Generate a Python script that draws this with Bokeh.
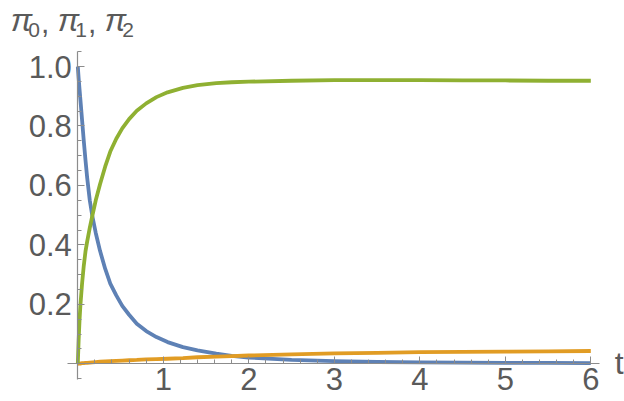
from bokeh.plotting import figure
from bokeh.models import FixedTicker, Label, NumeralTickFormatter
from bokeh.embed import file_html
from bokeh.resources import INLINE

# ---- data ----
t = [0, 0.01, 0.02, 0.03, 0.05, 0.07, 0.09, 0.11, 0.14, 0.17, 0.21, 0.26, 0.32,
     0.38, 0.45, 0.52, 0.6, 0.69, 0.8, 0.92, 1.05, 1.23, 1.4, 1.62, 1.8, 2.0,
     2.5, 3.0, 3.5, 4.0, 4.5, 5.0, 5.5, 6.0]
pi0 = [1.0, 0.96, 0.925, 0.89, 0.82, 0.75, 0.685, 0.625, 0.55, 0.497, 0.44,
       0.38, 0.32, 0.27, 0.23, 0.195, 0.165, 0.135, 0.11, 0.09, 0.073, 0.056,
       0.045, 0.034, 0.027, 0.021, 0.013, 0.009, 0.006, 0.005, 0.004, 0.003,
       0.003, 0.002]
pi1 = [0.0, 0.0005, 0.001, 0.001, 0.002, 0.002, 0.003, 0.003, 0.004, 0.005,
       0.006, 0.007, 0.008, 0.009, 0.010, 0.011, 0.012, 0.013, 0.015, 0.016,
       0.017, 0.019, 0.022, 0.024, 0.026, 0.028, 0.032, 0.035, 0.037, 0.039,
       0.040, 0.041, 0.042, 0.043]
pi2 = [0.0, 0.08, 0.145, 0.195, 0.27, 0.33, 0.378, 0.412, 0.457, 0.498, 0.55,
       0.604, 0.663, 0.714, 0.757, 0.792, 0.823, 0.851, 0.876, 0.897, 0.913,
       0.928, 0.937, 0.944, 0.947, 0.949, 0.952, 0.954, 0.954, 0.954, 0.953,
       0.953, 0.952, 0.952]

x_major = [1, 2, 3, 4, 5, 6]
x_minor = [0.2, 0.4, 0.6, 0.8, 1.2, 1.4, 1.6, 1.8, 2.2, 2.4, 2.6, 2.8, 3.2,
           3.4, 3.6, 3.8, 4.2, 4.4, 4.6, 4.8, 5.2, 5.4, 5.6, 5.8]
y_major = [0.2, 0.4, 0.6, 0.8, 1.0]
y_minor = [-0.05, 0.05, 0.1, 0.15, 0.25, 0.3, 0.35, 0.45, 0.5, 0.55, 0.65,
           0.7, 0.75, 0.85, 0.9, 0.95, 1.05]

colors = ["#5E81B5", "#E19C24", "#8FB032"]
label_color = "#5a5a5a"
axis_color = "#8c8c8c"
FONT = "Liberation Sans"

p = figure(width=624, height=401, x_range=(-0.904, 6.394), y_range=(-0.1268, 1.222),
           output_backend="svg", toolbar_location=None,
           min_border_left=0, min_border_right=0, min_border_top=0,
           min_border_bottom=0)
p.grid.visible = False
p.outline_line_color = None
p.background_fill_color = "white"

for ys, c in zip([pi0, pi1, pi2], colors):
    p.line(t, ys, line_color=c, line_width=3.8, line_join="round")

p.xaxis.fixed_location = 0
p.yaxis.fixed_location = 0
p.xaxis.bounds = (-0.12, 6.105)
p.yaxis.bounds = (-0.053, 1.0505)
p.xaxis.ticker = FixedTicker(ticks=x_major, minor_ticks=x_minor)
p.yaxis.ticker = FixedTicker(ticks=y_major, minor_ticks=y_minor)
p.xaxis.formatter = NumeralTickFormatter(format="0")
p.yaxis.formatter = NumeralTickFormatter(format="0.0")
for ax in (p.xaxis, p.yaxis):
    ax.axis_line_color = axis_color
    ax.axis_line_width = 1.2
    ax.major_tick_line_color = axis_color
    ax.minor_tick_line_color = axis_color
    ax.major_tick_in = 7
    ax.major_tick_out = 0
    ax.minor_tick_in = 4
    ax.minor_tick_out = 0
    ax.major_label_text_font = FONT
    ax.major_label_text_font_size = "31px"
    ax.major_label_text_color = label_color
p.yaxis.major_label_standoff = 6
p.xaxis.major_label_standoff = 4

# axis name "t"
p.add_layout(Label(x=6.28, y=0.004, text="t", text_font=FONT,
                   text_font_size="32px", text_color=label_color,
                   text_baseline="middle"))

# title  pi_0, pi_1, pi_2
title_parts = [("π", -0.785, 1.155, "32px", "italic"),
               ("0", -0.58, 1.124, "21px", "normal"),
               (",", -0.43, 1.146, "30px", "normal"),
               ("π", -0.235, 1.155, "32px", "italic"),
               ("1", -0.03, 1.124, "21px", "normal"),
               (",", 0.12, 1.146, "30px", "normal"),
               ("π", 0.315, 1.155, "32px", "italic"),
               ("2", 0.52, 1.124, "21px", "normal")]
for txt, xx, yy, fs, style in title_parts:
    p.add_layout(Label(x=xx, y=yy, text=txt, text_font=FONT, text_font_size=fs,
                       text_font_style=style, text_color=label_color,
                       text_baseline="middle"))

open("out.html", "w").write(file_html(p, INLINE))
